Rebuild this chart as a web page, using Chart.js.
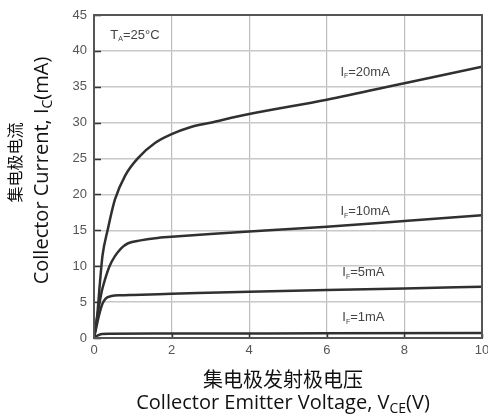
<!DOCTYPE html>
<html>
<head>
<meta charset="utf-8">
<script src="https://cdn.jsdelivr.net/npm/chart.js@4.4.1/dist/chart.umd.min.js"></script>
<style>
  html, body { margin: 0; padding: 0; background: #fff; }
  #wrap { width: 488px; height: 416px; }
</style>
</head>
<body>
<div id="wrap"><canvas id="chart" width="488" height="416"></canvas></div>
<script>
// Output characteristics.
const xTicks = [0, 2, 4, 6, 8, 10];
const yTicks = [0, 5, 10, 15, 20, 25, 30, 35, 40, 45];

const vce20 = [0, 0.08, 0.15, 0.22, 0.35, 0.54, 0.8, 1.14, 1.58, 2, 2.5, 3, 4, 6, 8, 10];
const ic20  = [0, 3, 7.5, 11.5, 15, 19.3, 22.6, 25.1, 27.2, 28.4, 29.4, 30, 31.2, 33.2, 35.5, 37.8];

const vce10 = [0, 0.1, 0.2, 0.28, 0.4, 0.54, 0.7, 0.88, 1.2, 1.58, 2, 3, 4, 6, 8, 10];
const ic10  = [0, 3.5, 6.5, 8.1, 10, 11.4, 12.5, 13.2, 13.6, 13.9, 14.1, 14.5, 14.85, 15.5, 16.3, 17.1];

const vce5 = [0, 0.08, 0.15, 0.22, 0.3, 0.45, 0.7, 1, 2, 4, 6, 8, 10];
const ic5  = [0, 2, 3.6, 4.8, 5.5, 5.85, 5.95, 6.0, 6.15, 6.45, 6.7, 6.9, 7.15];

const vce1 = [0, 0.1, 0.2, 0.4, 2, 6, 10];
const ic1  = [0, 0.35, 0.55, 0.6, 0.62, 0.66, 0.7];

// curve labels: [main, subscript, rest, anchor V, anchor mA]
const curveLabels = [
  ['I', 'F', '=20mA', 6.35, 37],
  ['I', 'F', '=10mA', 6.35, 17.6],
  ['I', 'F', '=5mA', 6.4, 9.1],
  ['I', 'F', '=1mA', 6.4, 2.8],
];
const tempLabel = ['T', 'A', '=25°C', 0.42, 42.2];

const toPts = (xs, ys) => xs.map((x, i) => ({ x, y: ys[i] }));

const LINE = '#303030';
const TICK_FONT = '"Liberation Sans", Arial, sans-serif';
const TITLE_FONT = '"Open Sans", "Noto Sans", sans-serif';
const CJK_FONT = '"Noto Sans CJK SC", sans-serif';

// draws main + subscript + rest, left aligned at (x, y) middle baseline
function drawSubText(ctx, parts, x, y, size, subSize, font, color) {
  ctx.save();
  ctx.fillStyle = color;
  ctx.textBaseline = 'middle';
  ctx.textAlign = 'left';
  ctx.font = size + 'px ' + font;
  ctx.fillText(parts[0], x, y);
  x += ctx.measureText(parts[0]).width;
  ctx.font = subSize + 'px ' + font;
  ctx.fillText(parts[1], x, y + size * 0.3);
  x += ctx.measureText(parts[1]).width;
  ctx.font = size + 'px ' + font;
  ctx.fillText(parts[2], x, y);
  ctx.restore();
}

function subTextWidth(ctx, parts, size, subSize, font) {
  ctx.save();
  ctx.font = size + 'px ' + font;
  let w = ctx.measureText(parts[0]).width + ctx.measureText(parts[2]).width;
  ctx.font = subSize + 'px ' + font;
  w += ctx.measureText(parts[1]).width;
  ctx.restore();
  return w;
}

const framePlugin = {
  id: 'frame',
  afterDatasetsDraw(chart) {
    const { ctx, chartArea: a, scales: { x, y } } = chart;
    ctx.save();
    // inner tick marks
    ctx.strokeStyle = '#333';
    ctx.lineWidth = 1.5;
    ctx.beginPath();
    yTicks.forEach(v => {
      const py = Math.round(y.getPixelForValue(v)) + 0.5;
      ctx.moveTo(a.left, py); ctx.lineTo(a.left + 7, py);
    });
    xTicks.forEach(v => {
      const px = Math.round(x.getPixelForValue(v)) + 0.5;
      ctx.moveTo(px, a.bottom); ctx.lineTo(px, a.bottom - 4);
    });
    ctx.stroke();
    // box
    ctx.strokeStyle = '#555';
    ctx.lineWidth = 2;
    ctx.strokeRect(a.left, a.top, a.right - a.left, a.bottom - a.top);
    ctx.restore();

    // annotations
    curveLabels.forEach(l => {
      drawSubText(ctx, l, x.getPixelForValue(l[3]), y.getPixelForValue(l[4]), 13, 7, TICK_FONT, '#444');
    });
    drawSubText(ctx, tempLabel, x.getPixelForValue(tempLabel[3]), y.getPixelForValue(tempLabel[4]), 13, 7, TICK_FONT, '#444');
  },
  afterDraw(chart) {
    const { ctx, chartArea: a } = chart;
    ctx.save();
    // x title
    const cx = (a.left + a.right) / 2 - 5;
    ctx.fillStyle = '#111';
    ctx.textAlign = 'center';
    ctx.textBaseline = 'middle';
    ctx.font = '20px ' + CJK_FONT;
    ctx.fillText('集电极发射极电压', cx, 379);
    const xt = ['Collector Emitter Voltage, V', 'CE', '(V)'];
    const wx = subTextWidth(ctx, xt, 20, 14, TITLE_FONT);
    drawSubText(ctx, xt, cx - wx / 2, 403, 20, 14, TITLE_FONT, '#111');

    // y title
    const cy = (a.top + a.bottom) / 2;
    ctx.translate(0, cy);
    ctx.rotate(-Math.PI / 2);
    ctx.font = '16px ' + CJK_FONT;
    ctx.fillText('集电极电流', 14, 15);
    const yt = ['Collector Current, I', 'C', '(mA)'];
    const wy = subTextWidth(ctx, yt, 20, 14, TITLE_FONT);
    drawSubText(ctx, yt, -wy / 2 + 6, 42, 20, 14, TITLE_FONT, '#111');
    ctx.restore();
  }
};

const lineDs = (pts) => ({
  data: pts,
  borderColor: LINE,
  borderWidth: 2.5,
  pointRadius: 0,
  fill: false,
  cubicInterpolationMode: 'monotone',
});

new Chart(document.getElementById('chart'), {
  type: 'line',
  data: {
    datasets: [
      lineDs(toPts(vce20, ic20)),
      lineDs(toPts(vce10, ic10)),
      lineDs(toPts(vce5, ic5)),
      lineDs(toPts(vce1, ic1)),
    ],
  },
  options: {
    responsive: false,
    animation: false,
    devicePixelRatio: 1,
    layout: { padding: { top: 15, right: 6, left: 0, bottom: 0 } },
    plugins: { legend: { display: false }, tooltip: { enabled: false } },
    scales: {
      x: {
        type: 'linear',
        min: 0, max: 10,
        afterBuildTicks: (s) => { s.ticks = xTicks.map(v => ({ value: v })); },
        afterFit: (s) => { s.height = 78; s.paddingLeft = 0; s.paddingRight = 0; },
        ticks: { color: '#555', font: { family: TICK_FONT, size: 13 }, padding: 5, maxRotation: 0 },
        grid: { color: '#bdbdbd', lineWidth: 1.2, tickLength: 0, drawTicks: false },
        border: { display: false },
      },
      y: {
        type: 'linear',
        min: 0, max: 45,
        afterBuildTicks: (s) => { s.ticks = yTicks.map(v => ({ value: v })); },
        afterFit: (s) => { s.width = 94; s.paddingTop = 0; s.paddingBottom = 0; },
        ticks: { color: '#555', font: { family: TICK_FONT, size: 13 }, padding: 7 },
        grid: { color: '#c8c8c8', lineWidth: 1.5, drawTicks: false },
        border: { display: false },
      },
    },
  },
  plugins: [framePlugin],
});
</script>
</body>
</html>
